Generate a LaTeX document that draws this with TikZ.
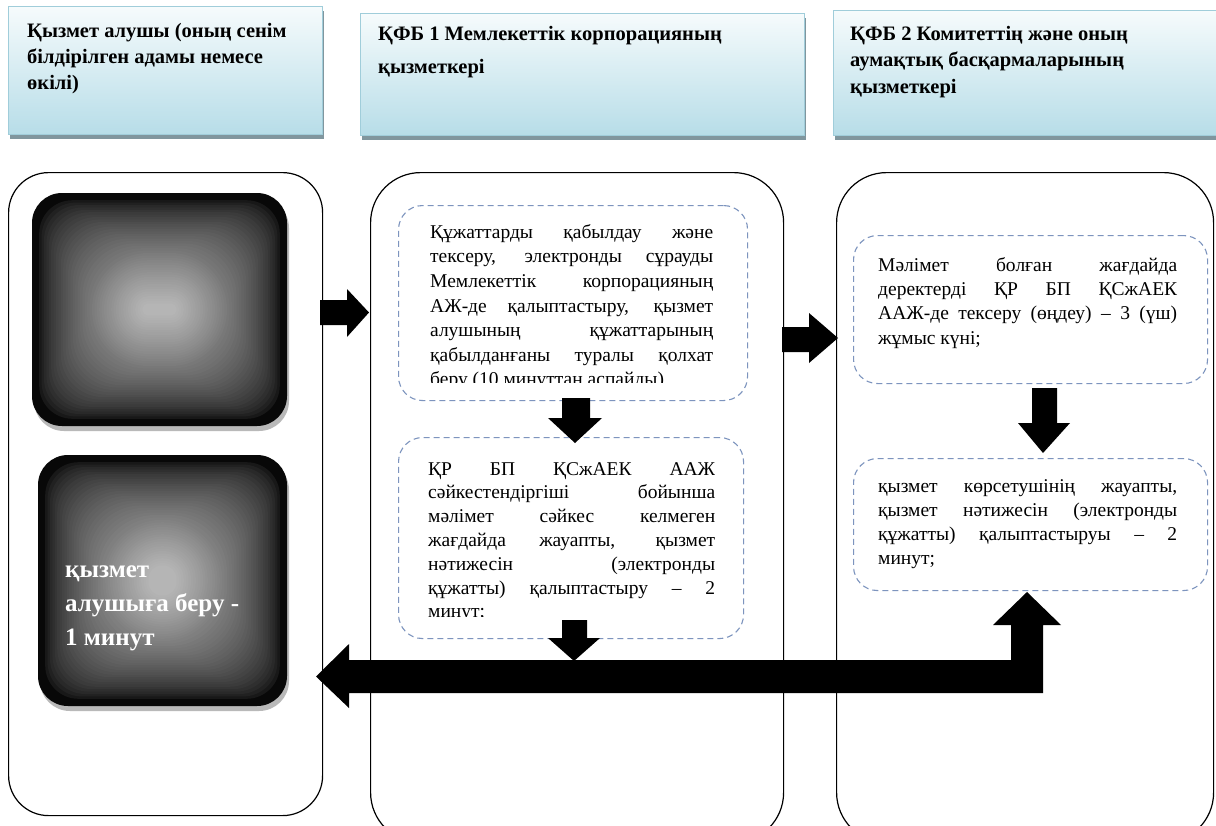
\documentclass[tikz,border=0pt]{standalone}
\usepackage{fontspec}
\setmainfont{Liberation Serif}
\usetikzlibrary{shadows}
\definecolor{hdrtop}{RGB}{246,251,252}
\definecolor{hdrbot}{RGB}{183,221,232}
\definecolor{hdrline}{RGB}{160,205,218}
\definecolor{hdrshad}{RGB}{128,150,158}
\definecolor{dashc}{RGB}{125,148,190}
\newcommand\JL[2]{\makebox[#1][s]{#2}}
\newcommand\glowbox[4]{%
 \fill[gray!55, rounded corners=30pt] (#1+2,#2-5) rectangle (#3+2,#4-5);
 \foreach \i in {0,...,46}{%
  \pgfmathsetmacro\ins{\i*2.4}%
  \pgfmathsetmacro\lev{0.03+0.68*pow(max(0.0001,(\i-2)/44),0.62)}%
  \pgfmathsetmacro\rad{max(3,min(30+0.45*\ins,min(((#3)-(#1))/2,((#2)-(#4))/2)-\ins-0.5))}%
  \definecolor{glowc}{gray}{\lev}%
  \fill[glowc, rounded corners=\rad pt] (#1+\ins,#2-\ins) rectangle (#3-\ins,#4+\ins);
 }}
\begin{document}
\begin{tikzpicture}[x=1pt,y=1pt,
  hdrbox/.style={draw=hdrline, line width=0.7pt, top color=hdrtop, bottom color=hdrbot, anchor=north west, inner sep=0pt, drop shadow={shadow xshift=2pt, shadow yshift=-5pt, fill=hdrshad, opacity=1}},
  hdrtext/.style={anchor=north west, inner sep=0pt, align=left, font=\fontsize{20.5}{#1}\selectfont\bfseries},
  lane/.style={draw=black, line width=1.2pt, rounded corners=#1, anchor=north west, inner sep=0pt},
  darkbox/.style={anchor=north west, inner sep=0pt},
  stepbox/.style={draw=dashc, dash pattern=on 6pt off 4pt, line width=1.1pt, rounded corners=24pt, anchor=north west, inner sep=0pt, fill=white},
  bodytext/.style={anchor=north west, inner sep=0pt, align=left, font=\fontsize{19.5}{#1}\selectfont},
  blockarrow/.style={fill=black}
]
\useasboundingbox (0,0) rectangle (1216,-825);
\fill[white] (0,0) rectangle (1216,-825);

% header boxes
\node[hdrbox, minimum width=314pt, minimum height=128pt] (h1) at (8,-6) {};
\node[hdrbox, minimum width=444pt, minimum height=122pt] (h2) at (360,-13) {};
\node[hdrbox, minimum width=400pt, minimum height=125pt] (h3) at (833,-10) {};
\node[hdrtext=26] (h1t) at (27,-18.8) {\strut Қызмет алушы (оның сенім\\білдірілген адамы немесе\\өкілі)};
\node[hdrtext=33] (h2t) at (378,-16.9) {\strut ҚФБ 1 Мемлекеттік корпорацияның\\қызметкері};
\node[hdrtext=26.5] (h3t) at (850,-21.5) {\strut ҚФБ 2 Комитеттің және оның\\аумақтық басқармаларының\\қызметкері};

% lanes
\node[lane=40pt, minimum width=314pt, minimum height=643pt] (l1) at (8,-172) {};
\node[lane=50pt, minimum width=413pt, minimum height=670pt] (l2) at (370,-172) {};
\node[lane=50pt, minimum width=377pt, minimum height=670pt] (l3) at (836,-172) {};

% dark boxes
\node[darkbox, minimum width=255pt, minimum height=233pt] (dA) at (32,-193) {};
\node[darkbox, minimum width=249pt, minimum height=251pt] (dB) at (38,-455) {};
\glowbox{32}{-193}{287}{-426}
\glowbox{38}{-455}{287}{-706}
\node[anchor=north west, inner sep=0pt, align=left, text=white, font=\fontsize{25}{34}\selectfont\bfseries] (dBt) at (65,-553) {\strut қызмет\\алушыға беру -\\1 минут};

% step boxes
\node[stepbox, minimum width=349pt, minimum height=195pt] (s1) at (398,-205) {};
\node[stepbox, minimum width=345pt, minimum height=201pt] (s2) at (398,-437) {};
\node[stepbox, minimum width=354pt, minimum height=148pt] (s3) at (853,-235) {};
\node[stepbox, minimum width=354pt, minimum height=132pt] (s4) at (853,-458) {};

\begin{scope}
\clip (398,-205) rectangle (747,-382);
\node[bodytext=24.6] (s1t) at (430,-220.8) {\strut\JL{283pt}{Құжаттарды қабылдау және}\\
\JL{283pt}{тексеру, электронды сұрауды}\\
\JL{283pt}{Мемлекеттік корпорацияның}\\
\JL{283pt}{АЖ-де қалыптастыру, қызмет}\\
\JL{283pt}{алушының құжаттарының}\\
\JL{283pt}{қабылданғаны туралы қолхат}\\
беру (10 минуттан аспайды)};
\end{scope}
\begin{scope}
\clip (398,-437) rectangle (747,-616);
\node[bodytext=23.8] (s2t) at (428,-458.3) {\strut\JL{287pt}{ҚР БП ҚСжАЕК ААЖ}\\
\JL{287pt}{сәйкестендіргіші бойынша}\\
\JL{287pt}{мәлімет сәйкес келмеген}\\
\JL{287pt}{жағдайда жауапты, қызмет}\\
\JL{287pt}{нәтижесін (электронды}\\
\JL{287pt}{құжатты) қалыптастыру – 2}\\
минут;};
\end{scope}
\node[bodytext=24.3] (s3t) at (878,-254) {\strut\JL{299pt}{Мәлімет болған жағдайда}\\
\JL{299pt}{деректерді ҚР БП ҚСжАЕК}\\
\JL{299pt}{ААЖ-де тексеру (өңдеу) – 3 (үш)}\\
жұмыс күні;};
\node[bodytext=24] (s4t) at (878,-475.2) {\strut\JL{299pt}{қызмет көрсетушінің жауапты,}\\
\JL{299pt}{қызмет нәтижесін (электронды}\\
\JL{299pt}{құжатты) қалыптастыруы – 2}\\
минут;};

% block arrows
\fill[blockarrow] (320,-300) -- (347,-300) -- (347,-289) -- (369,-312.5) -- (347,-337) -- (347,-325) -- (320,-325) -- cycle;
\fill[blockarrow] (782,-327) -- (809,-327) -- (809,-313) -- (838,-338) -- (809,-363) -- (809,-352) -- (782,-352) -- cycle;
\fill[blockarrow] (562,-398) -- (590,-398) -- (590,-418) -- (602,-418) -- (575,-443) -- (548,-418) -- (562,-418) -- cycle;
\fill[blockarrow] (1032,-388) -- (1057,-388) -- (1057,-423) -- (1070,-423) -- (1043,-453) -- (1018,-423) -- (1032,-423) -- cycle;
\fill[blockarrow] (562,-620) -- (587,-620) -- (587,-638) -- (600,-638) -- (574,-661) -- (548,-638) -- (562,-638) -- cycle;
\fill[blockarrow] (349,-660) -- (1011,-660) -- (1011,-625) -- (993,-625) -- (1027,-592) -- (1061,-625) -- (1043,-625) -- (1043,-693) -- (349,-693) -- (349,-708) -- (316,-676.5) -- (349,-644) -- cycle;
\end{tikzpicture}
\end{document}
